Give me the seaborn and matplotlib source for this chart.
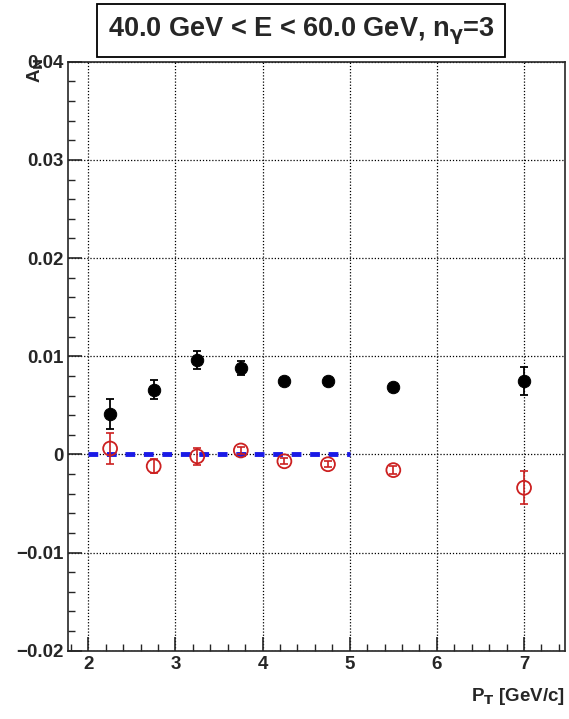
import numpy as np
import pandas as pd
import seaborn as sns
import matplotlib.pyplot as plt
from matplotlib.ticker import MultipleLocator

# data
pt = [2.25, 2.75, 3.25, 3.75, 4.25, 4.75, 5.5, 7.0]
an_black = [0.0041, 0.0066, 0.0096, 0.0088, 0.0075, 0.0075, 0.0069, 0.0075]
err_black = [0.0015, 0.0010, 0.0009, 0.0007, 0.0003, 0.0003, 0.0003, 0.0014]
an_red = [0.0006, -0.0012, -0.0002, 0.0004, -0.0007, -0.0010, -0.0016, -0.0034]
err_red = [0.0016, 0.0007, 0.0009, 0.0004, 0.0003, 0.0003, 0.0004, 0.0017]
zero_x = [2.0, 5.0]
zero_y = [0.0, 0.0]

sns.set_style("ticks")
plt.rcParams['font.family'] = ['Liberation Sans', 'DejaVu Sans']
plt.rcParams['font.weight'] = 'bold'

fig = plt.figure(figsize=(5.69, 7.19), dpi=100)
ax = fig.add_axes([0.12, 0.095, 0.873, 0.819])

df_b = pd.DataFrame({"pt": pt, "an": an_black})
df_r = pd.DataFrame({"pt": pt, "an": an_red})

# blue dashed zero line
sns.lineplot(x=zero_x, y=zero_y, ax=ax, color="#1a1ae6", lw=3.5,
             linestyle=(0, (2.0, 1.8)), zorder=2)

ax.errorbar(pt, an_black, yerr=err_black, fmt='none', ecolor='black',
            elinewidth=1.3, capsize=3, capthick=1.3, zorder=3)
sns.scatterplot(data=df_b, x="pt", y="an", ax=ax, color="black", s=80,
                marker="o", edgecolor="black", zorder=4)

ax.errorbar(pt, an_red, yerr=err_red, fmt='none', ecolor='#cc2020',
            elinewidth=1.2, capsize=3, capthick=1.2, zorder=3)
sns.scatterplot(data=df_r, x="pt", y="an", ax=ax, s=100, marker="o",
                facecolor="none", edgecolor="#cc2020", linewidth=1.3, zorder=4)

ax.set_xlim(1.77, 7.47)
ax.set_ylim(-0.02, 0.04)
ax.xaxis.set_major_locator(MultipleLocator(1))
ax.xaxis.set_minor_locator(MultipleLocator(0.2))
ax.yaxis.set_major_locator(MultipleLocator(0.01))
ax.yaxis.set_minor_locator(MultipleLocator(0.002))
ax.set_yticks(ax.get_yticks())
ax.set_yticklabels([("%g" % v).replace("-", "\u2212") if abs(v) > 1e-9 else "0"
                    for v in ax.get_yticks()])
ax.set_ylim(-0.02, 0.04)
ax.tick_params(which='major', direction='in', length=10, width=1.2,
               labelsize=13.5, top=False, right=False)
ax.tick_params(which='minor', direction='in', length=5, width=1.0,
               top=False, right=False)
for lab in ax.get_xticklabels() + ax.get_yticklabels():
    lab.set_fontweight('bold')
ax.grid(True, which='major', linestyle=(0, (1, 1.5)), color='black', lw=0.9)
for s in ax.spines.values():
    s.set_linewidth(1.2)

ax.set_xlabel(r"P$_\mathbf{T}$ [GeV/c]", fontsize=13.5, fontweight='bold')
ax.xaxis.set_label_coords(1.0, -0.06)
ax.xaxis.label.set_horizontalalignment('right')
ax.set_ylabel(r"A$_\mathbf{N}$", fontsize=13.5, fontweight='bold')
ax.yaxis.set_label_coords(-0.085, 0.985)
ax.yaxis.label.set_verticalalignment('top')

fig.text(0.529, 0.957, r"40.0 GeV < E < 60.0 GeV, n$_\mathbf{\gamma}$=3",
         ha='center', va='center', fontsize=19.5, fontweight='bold',
         bbox=dict(boxstyle='square,pad=0.4', fc='white', ec='black', lw=1.3))

fig.savefig("out.png", dpi=100)
